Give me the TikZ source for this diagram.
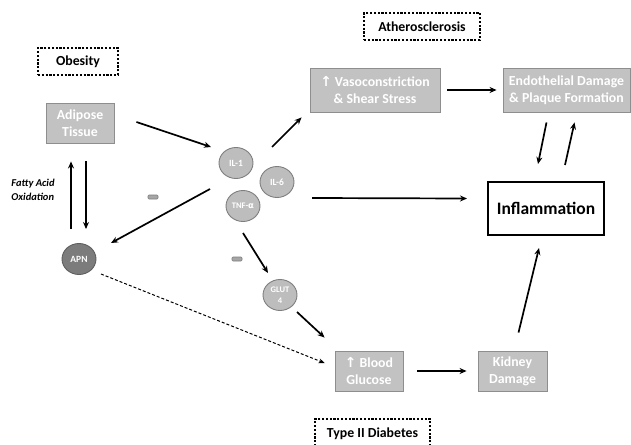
\documentclass[tikz,border=0pt]{standalone}
\usepackage{fontspec}
\setmainfont{Carlito}
\newfontfamily\symfont{DejaVu Sans}
\usetikzlibrary{arrows.meta,shapes.geometric}
\definecolor{boxfill}{HTML}{C2C2C2}
\definecolor{boxline}{HTML}{8E8E8E}
\definecolor{circfill}{HTML}{BDBDBD}
\definecolor{circline}{HTML}{7E7E7E}
\definecolor{apnfill}{HTML}{7C7C7C}
\definecolor{apnline}{HTML}{5E5E5E}
\begin{document}
\begin{tikzpicture}[x=1pt,y=-1pt,
  gbox/.style={draw=boxline,fill=boxfill,line width=0.9pt,text=white,
    font=\bfseries\fontsize{13.8}{17}\selectfont,align=center,inner sep=0pt},
  circ/.style={ellipse,draw=circline,fill=circfill,line width=0.9pt,text=white,
    minimum width=34pt,minimum height=31pt,inner sep=0pt,align=center,
    font=\bfseries\fontsize{9.5}{11}\selectfont},
  lblbox/.style={draw,dash pattern=on 2.2pt off 1.6pt,line width=1.1pt,
    inner sep=0pt,font=\bfseries\fontsize{13.8}{16}\selectfont},
  minusbar/.style={draw=circline,fill=gray!70,rounded corners=1pt,line width=0.6pt,
    minimum width=10pt,minimum height=4pt,inner sep=0pt},
  arr/.style={line width=1.7pt,-{Stealth[length=7pt,width=6pt]}},
  darr/.style={line width=1pt,dash pattern=on 3pt off 2pt,-{Stealth[length=6pt,width=5pt]}}
]
\useasboundingbox (0,0) rectangle (631,444);

% label boxes
\node[lblbox,minimum width=80pt,minimum height=27pt] (obes) at (78,61.5) {Obesity};
\node[lblbox,minimum width=116pt,minimum height=27pt] (ather) at (422,26.5) {Atherosclerosis};
\node[lblbox,minimum width=115pt,minimum height=30pt] (diab) at (372.5,434) {Type II Diabetes};

% gray boxes
\node[gbox,minimum width=68pt,minimum height=40pt] (adip) at (80,123) {Adipose\\Tissue};
\node[gbox,minimum width=130pt,minimum height=44pt] (vaso) at (375,90) {{\symfont\bfseries ↑} Vasoconstriction\\\& Shear Stress};
\node[gbox,minimum width=127pt,minimum height=44pt] (endo) at (566.5,90) {Endothelial Damage\\\& Plaque Formation};
\node[gbox,minimum width=68pt,minimum height=40pt] (bg) at (369,371) {{\symfont\bfseries ↑} Blood\\Glucose};
\node[gbox,minimum width=69pt,minimum height=40pt] (kid) at (512.5,371) {Kidney\\Damage};

% inflammation
\node[draw,line width=2pt,minimum width=116pt,minimum height=53pt,inner sep=0pt,
  font=\bfseries\fontsize{17.5}{20}\selectfont] (infl) at (546,208.5) {Inflammation};

% circles
\node[circ] (il1) at (236,163) {IL-1};
\node[circ] (il6) at (277,182) {IL-6};
\node[circ,font=\bfseries\fontsize{8.5}{10}\selectfont] (tnf) at (243,206) {TNF-{\symfont α}};
\node[circ,font=\bfseries\fontsize{8.5}{11}\selectfont] (glut) at (280,295) {GLUT\\4};
\node[circ,fill=apnfill,draw=apnline] (apn) at (79,259) {APN};

% minus signs
\node[minusbar] (m1) at (153,197) {};
\node[minusbar] (m2) at (237,259) {};

% side text
\node[font=\bfseries\itshape\fontsize{10.5}{13.5}\selectfont,align=left,inner sep=0pt] (fao) at (33,190) {Fatty Acid\\Oxidation};

% arrows
\draw[arr] ([shift={(22,-1)}]adip.east) -- ([shift={(-25,-16)}]il1.center);
\draw[arr] ([shift={(36,-16)}]il1.center) -- ([shift={(-8,5)}]vaso.south west);
\draw[arr] ([shift={(-33,-17)}]tnf.center) -- ([shift={(32,-16)}]apn.center);
\draw[arr] ([shift={(-8,-30)}]apn.center) -- ([shift={(-9,18)}]adip.south);
\draw[arr] ([shift={(6,18)}]adip.south) -- ([shift={(7,-30)}]apn.center);
\draw[arr] ([shift={(0,27)}]tnf.center) -- ([shift={(-12,-22)}]glut.center);
\draw[arr] ([shift={(17,17)}]glut.center) -- ([shift={(-10,-13)}]bg.north west);
\draw[darr] ([shift={(22,15)}]apn.center) -- ([shift={(-10,-8)}]bg.west);
\draw[arr] ([shift={(14,0)}]bg.east) -- ([shift={(-11,0)}]kid.west);
\draw[arr] ([shift={(6,-18)}]kid.north) -- ([shift={(-7,12)}]infl.south);
\draw[arr] ([shift={(35,16)}]il6.center) -- ([shift={(-20,-10)}]infl.west);
\draw[arr] ([shift={(7,0)}]vaso.east) -- ([shift={(-6,0)}]endo.west);
\draw[arr] ([shift={(-20,10)}]endo.south) -- ([shift={(-8,-17)}]infl.north);
\draw[arr] ([shift={(19,-16)}]infl.north) -- ([shift={(8,10)}]endo.south);
\end{tikzpicture}
\end{document}
